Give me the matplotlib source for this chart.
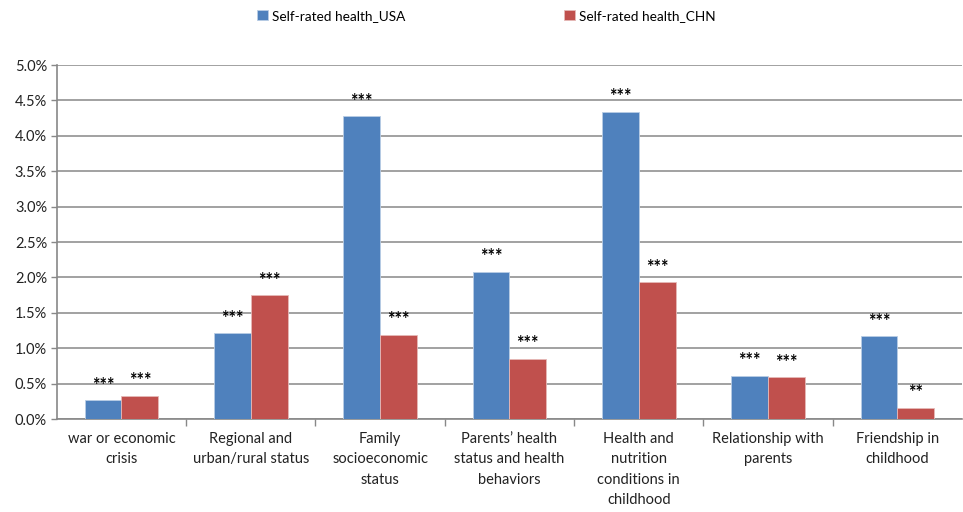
import matplotlib
matplotlib.use("Agg")
import matplotlib.pyplot as plt
import numpy as np

categories = ["war or economic\ncrisis", "Regional and\nurban/rural status", "Family\nsocioeconomic\nstatus",
              "Parents\u2019 health\nstatus and health\nbehaviors", "Health and\nnutrition\nconditions in\nchildhood",
              "Relationship with\nparents", "Friendship in\nchildhood"]
usa = [0.27, 1.21, 4.28, 2.08, 4.34, 0.61, 1.17]
chn = [0.33, 1.75, 1.19, 0.85, 1.93, 0.59, 0.16]
usa_sig = ["***"] * 7
chn_sig = ["***", "***", "***", "***", "***", "***", "**"]
series_names = ["Self-rated health_USA", "Self-rated health_CHN"]
yticks = [0.0, 0.5, 1.0, 1.5, 2.0, 2.5, 3.0, 3.5, 4.0, 4.5, 5.0]

plt.rcParams['font.family'] = ['Lato', 'DejaVu Sans']

fig = plt.figure(figsize=(9.63, 5.12), dpi=100)
ax = fig.add_axes([0.059, 0.1816, 0.94, 0.6914])

x = np.arange(len(categories))
w = 0.285
blue = "#4f81bd"
red = "#c0504d"
b1 = ax.bar(x - w/2, usa, w, color=blue, edgecolor="#b9cde5", linewidth=0.6, label=series_names[0], zorder=3)
b2 = ax.bar(x + w/2, chn, w, color=red, edgecolor="#e6b9b8", linewidth=0.6, label=series_names[1], zorder=3)

for xi, v, s in zip(x - w/2, usa, usa_sig):
    ax.text(xi, v + 0.09, s, ha="center", va="bottom", fontsize=13, fontweight="bold", color="black")
for xi, v, s in zip(x + w/2, chn, chn_sig):
    ax.text(xi, v + 0.09, s, ha="center", va="bottom", fontsize=13, fontweight="bold", color="black")

ax.set_xlim(-0.5, len(categories) - 0.5)
ax.set_ylim(0, 5.0)
ax.set_yticks(yticks)
ax.set_yticklabels([f"{t:.1f}%" for t in yticks], fontsize=10.5, color="#222222")
ax.yaxis.grid(True, color="#9a9a9a", linewidth=1.3, zorder=0)
ax.set_axisbelow(True)
ax.tick_params(axis="y", length=4, color="#888888", width=1, pad=3)

ax.set_xticks(x)
ax.set_xticklabels(categories, fontsize=10.5, color="#222222", linespacing=1.6)
ax.tick_params(axis="x", which="major", length=0, pad=9)
ax.set_xticks(np.arange(len(categories) + 1)[1:-1] - 0.5, minor=True)
ax.tick_params(axis="x", which="minor", length=5, color="#888888", width=1)

for sp in ["top", "right"]:
    ax.spines[sp].set_visible(False)
ax.spines["left"].set_color("#888888")
ax.spines["bottom"].set_color("#888888")
ax.spines["left"].set_linewidth(1.2)
ax.spines["bottom"].set_linewidth(1.2)

leg = fig.legend(handles=[b1, b2], labels=series_names, loc="upper left", bbox_to_anchor=(0.254, 1.005),
                 ncol=2, frameon=False, fontsize=9.8, handlelength=0.8, handleheight=0.8,
                 handletextpad=0.3, columnspacing=11.7)

fig.savefig("out.png", dpi=100)
